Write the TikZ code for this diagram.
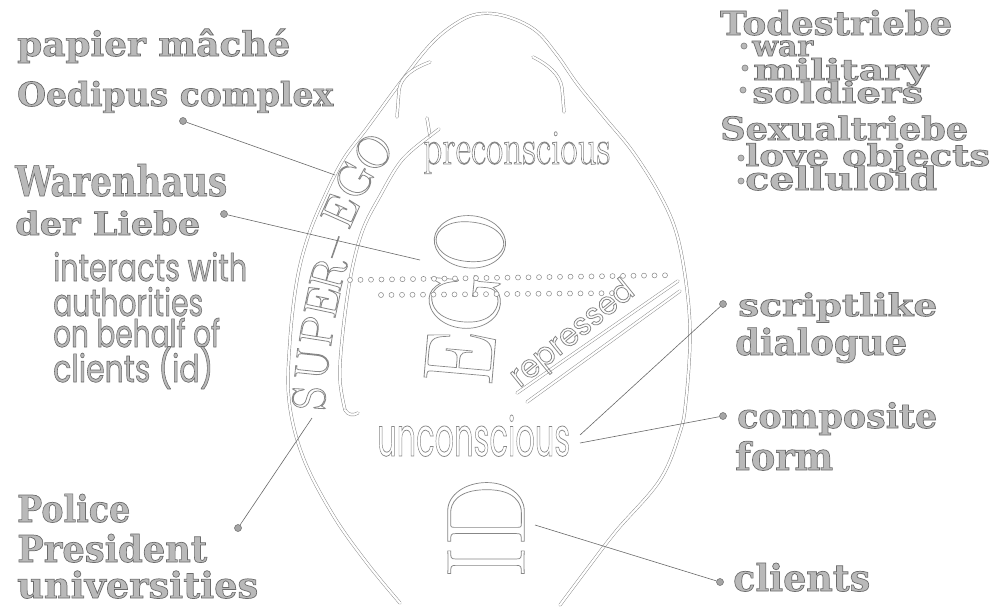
\documentclass[tikz,border=0pt]{standalone}
\usepackage{fontspec}
\usepackage{graphicx}
\usetikzlibrary{calc}
\newfontfamily\slab{DejaVu Serif}
\newfontfamily\geo{Poppins}
\definecolor{linec}{RGB}{135,135,135}
\definecolor{leadc}{RGB}{105,105,105}
\definecolor{pinc}{RGB}{165,165,165}
\definecolor{labfill}{RGB}{185,185,185}
% outlined (stroked) text and filled+stroked text via PDF text render modes
\newcommand\owht[1]{\special{pdf:literal direct 1 Tr 0.8 w}#1\special{pdf:literal direct 0 Tr}}
\newcommand\olab[1]{\special{pdf:literal direct 2 Tr 0.7 w 0.42 0.42 0.42 RG}#1\special{pdf:literal direct 0 Tr}}
\newcommand\fitw[2]{\resizebox{#1}{\height}{#2}}
\tikzset{
  tube/.style={draw=linec, line width=0.45pt, double=white, double distance=2.2pt, line cap=round},
  leader/.style={draw=leadc, line width=0.6pt},
  pin/.style={circle, draw=leadc, fill=pinc, inner sep=0pt, minimum size=7pt, line width=0.5pt},
  bul/.style={circle, draw=linec, fill=labfill, inner sep=0pt, minimum size=6pt, line width=0.7pt},
  lab/.style={anchor=base west, inner sep=0pt, text=labfill, font=\slab\bfseries\fontsize{33}{33}\selectfont},
  sanslab/.style={anchor=base west, inner sep=0pt, text=labfill, font=\geo\fontsize{38}{38}\selectfont},
  hollow/.style={inner sep=0pt, text=linec},
  sel/.style={hollow, font=\fontsize{47}{47}\selectfont},
  dotc/.style={circle, draw=linec, fill=white, inner sep=0pt, minimum size=5pt, line width=0.5pt}
}
\begin{document}
\begin{tikzpicture}[x=1pt,y=-1pt]
\useasboundingbox (0,0) rectangle (998,613);
\fill[white] (0,0) rectangle (998,613);

% egg outline
\draw[tube] plot[smooth, tension=0.6] coordinates {(400,603) (367,563) (333,515) (303,457) (289,400) (290,340) (297,280) (308,237) (323,200) (343,160) (367,128) (400,83) (430,45) (455,24) (478,14) (505,16) (535,30) (557,55) (578,85) (605,118) (633,152) (660,195) (677,235) (687,290) (690,340) (686,400) (680,432) (660,480) (617,530) (590,565) (560,605)};
% top tails
\draw[tube] (430,62) .. controls (414,68) and (401,76) .. (399,90) -- (397,117);
\draw[tube] (533,57) .. controls (547,64) and (560,74) .. (562,88) -- (564,112);
% super-ego inner line
\draw[tube] plot[smooth, tension=0.6] coordinates {(345,410) (340,380) (342,340) (350,280) (362,232) (380,196) (402,160) (430,136)};
\draw[tube] (430,136) -- (427,118);
\draw[tube] (430,136) -- (439,129);
\draw[tube] (345,410) .. controls (348,415) and (353,416) .. (358,413);
% repressed lines
\draw[tube] (517,393) -- (678,281);
\draw[tube] (527,402) -- (680,291);

% SUPER-EGO
\foreach \ch/\x/\y/\r [count=\i] in {S/309/398/87, U/312/364/84, P/317/331/81, E/322/302/78, R/328/274/75, \textendash/332/246/71, E/340/211/66, G/354/180/61, O/373/152/55}
  \node[sel, rotate=\r] (se\i) at (\x,\y) {\vphantom{S}\owht{\ch}};

% EGO and ID
\node[hollow, rotate=85, font=\fontsize{100}{100}\selectfont] (ego) at (465,298) {\fitw{173pt}{\owht{EGO}}};
\node[hollow, rotate=90, font=\fontsize{112}{112}\selectfont] (id) at (486,528) {\fitw{100pt}{\owht{ID}}};

% dotted rows
\foreach \x [count=\i] in {350,360.5,...,668} \node[dotc] (ra\i) at (\x,{280-0.015*(\x-350)}) {};
\foreach \x [count=\i] in {381,391.5,...,612} \node[dotc] (rb\i) at (\x,{295-0.008*(\x-381)}) {};

% inner labels
\node[hollow, anchor=base west, font=\fontsize{50}{50}\selectfont] (pre) at (423,164) {\fitw{187pt}{\owht{preconscious}}};
\node[hollow, anchor=base west, font=\geo\fontsize{54}{54}\selectfont] (unc) at (377,456) {\fitw{193pt}{\owht{unconscious}}};
\node[hollow, anchor=base, rotate=39, font=\geo\fontsize{32}{32}\selectfont] (rep) at (578,341) {\fitw{150pt}{\owht{repressed}}};

% left labels
\node[lab, font=\slab\bfseries\fontsize{34}{34}\selectfont] (papier) at (17,56) {\fitw{273pt}{\olab{papier mâché}}};
\node[lab] (oedipus) at (17,106) {\fitw{316pt}{\olab{Oedipus complex}}};
\node[lab, font=\slab\bfseries\fontsize{42}{42}\selectfont] (waren) at (15,196) {\fitw{212pt}{\olab{Warenhaus}}};
\node[lab, font=\slab\bfseries\fontsize{32}{32}\selectfont] (liebe) at (15,235) {\fitw{185pt}{\olab{der Liebe}}};
\node[sanslab] (int1) at (53,281) {\fitw{194pt}{\olab{interacts with}}};
\node[sanslab] (int2) at (53,316) {\fitw{150pt}{\olab{authorities}}};
\node[sanslab] (int3) at (53,347) {\fitw{167pt}{\olab{on behalf of}}};
\node[sanslab] (int4) at (53,382) {\fitw{160pt}{\olab{clients (id)}}};
\node[lab, font=\slab\bfseries\fontsize{37}{37}\selectfont] (police) at (17,522) {\fitw{113pt}{\olab{Police}}};
\node[lab, font=\slab\bfseries\fontsize{37}{37}\selectfont] (pres) at (17,562) {\fitw{190pt}{\olab{President}}};
\node[lab, font=\slab\bfseries\fontsize{36}{36}\selectfont] (univ) at (17,598) {\fitw{241pt}{\olab{universities}}};

% right labels
\node[lab, font=\slab\bfseries\fontsize{33}{33}\selectfont] (tod) at (720,35) {\fitw{232pt}{\olab{Todestriebe}}};
\node[lab, font=\slab\bfseries\fontsize{29}{29}\selectfont] (war) at (752,56) {\fitw{61pt}{\olab{war}}};
\node[lab, font=\slab\bfseries\fontsize{29}{29}\selectfont] (mil) at (753,80) {\fitw{175pt}{\olab{military}}};
\node[lab, font=\slab\bfseries\fontsize{29}{29}\selectfont] (sol) at (752,103) {\fitw{171pt}{\olab{soldiers}}};
\node[lab, font=\slab\bfseries\fontsize{32}{32}\selectfont] (sex) at (720,140) {\fitw{248pt}{\olab{Sexualtriebe}}};
\node[lab, font=\slab\bfseries\fontsize{30}{30}\selectfont] (love) at (745,166) {\fitw{245pt}{\olab{love objects}}};
\node[lab, font=\slab\bfseries\fontsize{32}{32}\selectfont] (cell) at (745,190) {\fitw{192pt}{\olab{celluloid}}};
\node[lab, font=\slab\bfseries\fontsize{31}{31}\selectfont] (scr) at (738,316) {\fitw{199pt}{\olab{scriptlike}}};
\node[lab, font=\slab\bfseries\fontsize{36}{36}\selectfont] (dia) at (735,355) {\fitw{172pt}{\olab{dialogue}}};
\node[lab, font=\slab\bfseries\fontsize{34}{34}\selectfont] (comp) at (737,428) {\fitw{200pt}{\olab{composite}}};
\node[lab, font=\slab\bfseries\fontsize{38}{38}\selectfont] (form) at (735,470) {\fitw{98pt}{\olab{form}}};
\node[lab, font=\slab\bfseries\fontsize{37}{37}\selectfont] (cli) at (733,591) {\fitw{137pt}{\olab{clients}}};

% bullets
\node[bul] (bwar) at (744,46) {};
\node[bul] (bmil) at (745,68) {};
\node[bul] (bsol) at (743,90) {};
\node[bul] (blov) at (741,158) {};
\node[bul] (bcel) at (741,181) {};

% leader end points
\coordinate (eOed) at (335,175);
\coordinate (eWar) at (420,260);
\coordinate (ePol) at (312,418);
\coordinate (eScr) at (580,435);
\coordinate (eCom) at (580,443);
\coordinate (eCli) at (535,525);

% pins
\node[pin] (pOed) at (183,121) {};
\node[pin] (pWar) at (224,214) {};
\node[pin] (pPol) at (238,528) {};
\node[pin] (pScr) at (723,304) {};
\node[pin] (pCom) at (723,416) {};
\node[pin] (pCli) at (720,582) {};

\draw[leader] (pOed) -- (eOed);
\draw[leader] (pWar) -- (eWar);
\draw[leader] (pPol) -- (ePol);
\draw[leader] (pScr) -- (eScr);
\draw[leader] (pCom) -- (eCom);
\draw[leader] (pCli) -- (eCli);
\end{tikzpicture}
\end{document}
